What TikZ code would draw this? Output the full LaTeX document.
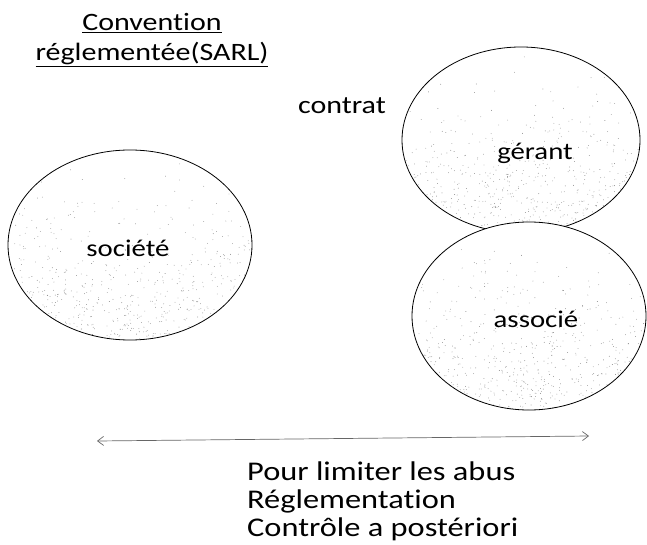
\documentclass[tikz,border=0pt]{standalone}
\usepackage{fontspec}
\setmainfont{Carlito}[FakeStretch=1.2, Ligatures=NoCommon]
\usetikzlibrary{shapes.geometric,arrows.meta}

\tikzset{
  % stippled ellipse: dots get denser toward the bottom
  stipple/.style 2 args={
    path picture={
      \foreach \k in {1,...,700}{
        \pgfmathsetmacro\px{(2*rnd-1)*#1}
        \pgfmathsetmacro\py{(1-2*rnd^0.35)*#2}
        \fill[black!45] ([shift={(\px pt,\py pt)}]path picture bounding box.center) circle (0.42pt);
      }
    }
  },
  blob/.style 2 args={ellipse, draw=black, line width=0.8pt, fill=white,
    inner sep=0pt, minimum width=2*#1 pt, minimum height=2*#2 pt, stipple={#1}{#2}},
  word/.style={font=\fontsize{24}{28}\selectfont, inner sep=0pt},
  bigword/.style={font=\fontsize{25}{29}\selectfont, inner sep=0pt},
  note/.style={font=\fontsize{27}{28}\selectfont, inner sep=0pt},
  link/.style={draw=black!60, line width=0.7pt,
    {Straight Barb[length=6pt,width=9pt]}-{Straight Barb[length=6pt,width=9pt]}}
}

\begin{document}
\begin{tikzpicture}[x=1pt,y=-1pt]
\pgfmathsetseed{4242}
\useasboundingbox (0,0) rectangle (647,545);

% title
\node[bigword, anchor=base] (t1) at (152,31) {\underline{Convention}};
\node[bigword, anchor=base] (t2) at (152,61) {\underline{réglementée(SARL)}};
\node[bigword, anchor=base] (contrat) at (342,114) {contrat};

% the three parties
\node[blob={122}{95}] (soc) at (130,245) {};
\node[blob={119}{93}] (ger) at (521,140) {};
\node[blob={117}{94}] (ass) at (529,316) {};

\node[word] (socl) at (128,248) {société};
\node[word] (gerl) at (535,153) {gérant};
\node[word] (assl) at (536,319) {associé};

% double arrow
\coordinate (la) at (97,441);
\coordinate (ra) at (589,436);
\draw[link] (la) -- (ra);

% notes
\node[note, anchor=base west, align=left] (notes) at (247,536)
  {Pour limiter les abus\\Réglementation\\Contrôle a postériori};
\end{tikzpicture}
\end{document}
